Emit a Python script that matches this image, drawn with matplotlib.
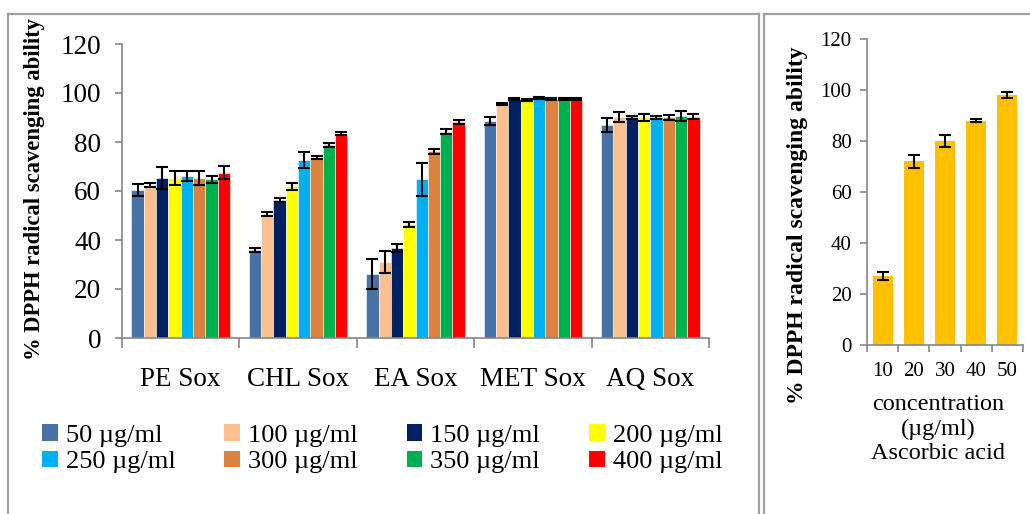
import numpy as np
import matplotlib
matplotlib.use("Agg")
import matplotlib.pyplot as plt
from matplotlib.lines import Line2D
from matplotlib.patches import Patch

plt.rcParams["font.family"] = ["Liberation Serif", "DejaVu Serif"]

# ---- data ----
extracts = ["PE Sox", "CHL Sox", "EA Sox", "MET Sox", "AQ Sox"]
conc_labels = ["50 µg/ml", "100 µg/ml", "150 µg/ml", "200 µg/ml",
               "250 µg/ml", "300 µg/ml", "350 µg/ml", "400 µg/ml"]

m50 = [60.4, 35.9, 26.1, 88.6, 87.0]
m100 = [62.6, 50.7, 31.0, 95.5, 90.3]
m150 = [65.2, 56.5, 36.9, 97.4, 90.0]
m200 = [65.4, 61.9, 46.4, 97.2, 90.0]
m250 = [66.0, 72.6, 64.8, 98.0, 90.0]
m300 = [65.3, 73.6, 76.3, 97.5, 90.0]
m350 = [64.8, 78.8, 84.2, 97.5, 90.5]
m400 = [67.5, 83.3, 88.3, 97.5, 90.3]

e50 = [2.5, 0.7, 6.0, 1.8, 2.8]
e100 = [0.8, 0.9, 4.4, 0.5, 2.0]
e150 = [4.5, 0.8, 1.6, 0.4, 0.8]
e200 = [2.8, 1.4, 1.0, 0.4, 1.5]
e250 = [2.0, 3.2, 6.7, 0.4, 0.8]
e300 = [2.8, 0.6, 1.0, 0.4, 1.0]
e350 = [1.5, 0.8, 1.0, 0.4, 2.0]
e400 = [2.7, 0.6, 0.8, 0.4, 1.0]

means = [m50, m100, m150, m200, m250, m300, m350, m400]
errs = [e50, e100, e150, e200, e250, e300, e350, e400]
colors = ["#4672A8", "#FAC090", "#002060", "#FFFF00",
          "#00B0F0", "#DC8240", "#00B050", "#FF0000"]

aa_conc = ["10", "20", "30", "40", "50"]
aa_mean = [27.0, 72.0, 80.0, 88.0, 98.0]
aa_err = [1.6, 2.4, 2.4, 0.5, 1.3]
AA_COLOR = "#FFC000"

SPINE = "#868686"
W, H = 1030, 514


def fx(px):
    return px / W


def fy(py):
    return 1 - py / H


fig = plt.figure(figsize=(10.3, 5.14), dpi=100)

# ---- left chart: extracts ----
ax = fig.add_axes([fx(122), fy(338), fx(709) - fx(122), fy(44) - fy(338)])
n = len(means)
group_w = 0.84
bw = group_w / n
x = np.arange(len(extracts))
for i, (m, e, c) in enumerate(zip(means, errs, colors)):
    pos = x - group_w / 2 + bw * (i + 0.5)
    ax.bar(pos, m, width=bw, color=c, edgecolor="white", linewidth=0.4,
           label=conc_labels[i], zorder=2)
    ax.errorbar(pos, m, yerr=e, fmt="none", ecolor="black", elinewidth=1.5,
                capsize=4.5, capthick=1.5, zorder=3)

ax.set_xlim(-0.5, len(extracts) - 0.5)
ax.set_ylim(0, 120)
ax.set_yticks(range(0, 121, 20))
ax.set_xticks(x)
ax.set_xticklabels(extracts)
ax.set_xticks(np.arange(-0.5, len(extracts)), minor=True)
ax.tick_params(axis="x", which="major", length=0, pad=21, labelsize=19.5)
ax.tick_params(axis="x", which="minor", length=7, width=1.2, color=SPINE)
ax.tick_params(axis="y", length=5, width=1.2, color=SPINE, pad=10, labelsize=19.5)
for s in ("top", "right"):
    ax.spines[s].set_visible(False)
for s in ("left", "bottom"):
    ax.spines[s].set_color(SPINE)
    ax.spines[s].set_linewidth(1.2)
fig.text(fx(35), fy(189), "% DPPH radical scavenging ability", rotation=90,
         ha="center", va="center", fontsize=16.3, fontweight="bold")

# legend: row-wise order in 4 columns
handles = [Patch(facecolor=c) for c in colors]
order = [0, 4, 1, 5, 2, 6, 3, 7]
fig.legend([handles[k] for k in order], [conc_labels[k] for k in order],
           ncol=4, loc="upper left", bbox_to_anchor=(fx(42), fy(424)),
           frameon=False, fontsize=19, handlelength=0.6, handleheight=0.6,
           handletextpad=0.3, columnspacing=1.85, labelspacing=0.15,
           borderaxespad=0, borderpad=0)

# ---- right chart: ascorbic acid ----
ax2 = fig.add_axes([fx(867), fy(345), fx(1023) - fx(867), fy(39) - fy(345)])
xa = np.arange(len(aa_conc))
ax2.bar(xa, aa_mean, width=0.64, color=AA_COLOR, zorder=2)
ax2.errorbar(xa, aa_mean, yerr=aa_err, fmt="none", ecolor="black",
             elinewidth=1.5, capsize=4.3, capthick=1.5, zorder=3)
ax2.set_xlim(-0.5, len(aa_conc) - 0.5)
ax2.set_ylim(0, 120)
ax2.set_yticks(range(0, 121, 20))
ax2.set_xticks(xa)
ax2.set_xticklabels(aa_conc)
ax2.set_xticks(np.arange(-0.5, len(aa_conc)), minor=True)
ax2.tick_params(axis="x", which="major", length=0, pad=12, labelsize=15)
ax2.tick_params(axis="x", which="minor", length=5, width=1.2, color=SPINE)
ax2.tick_params(axis="y", length=5, width=1.2, color=SPINE, pad=6, labelsize=15)
for s in ("top", "right"):
    ax2.spines[s].set_visible(False)
for s in ("left", "bottom"):
    ax2.spines[s].set_color(SPINE)
    ax2.spines[s].set_linewidth(1.2)
fig.text(fx(797), fy(225), "% DPPH radical scavenging ability", rotation=90,
         ha="center", va="center", fontsize=17, fontweight="bold")
fig.text(fx(938), fy(429), "concentration\n(µg/ml)\nAscorbic acid",
         ha="center", va="center", fontsize=17.5, linespacing=1.22)

# ---- panel borders ----
BORDER = "#A0A0A0"
for xs, ys in [
    ((8, 759), (14, 14)), ((8, 8), (14, 514)), ((759, 759), (14, 514)),
    ((764, 1030), (14, 14)), ((764, 764), (14, 514)),
]:
    fig.add_artist(Line2D([fx(v) for v in xs], [fy(v) for v in ys],
                          color=BORDER, linewidth=1.6))

fig.savefig("out.png", dpi=100)
